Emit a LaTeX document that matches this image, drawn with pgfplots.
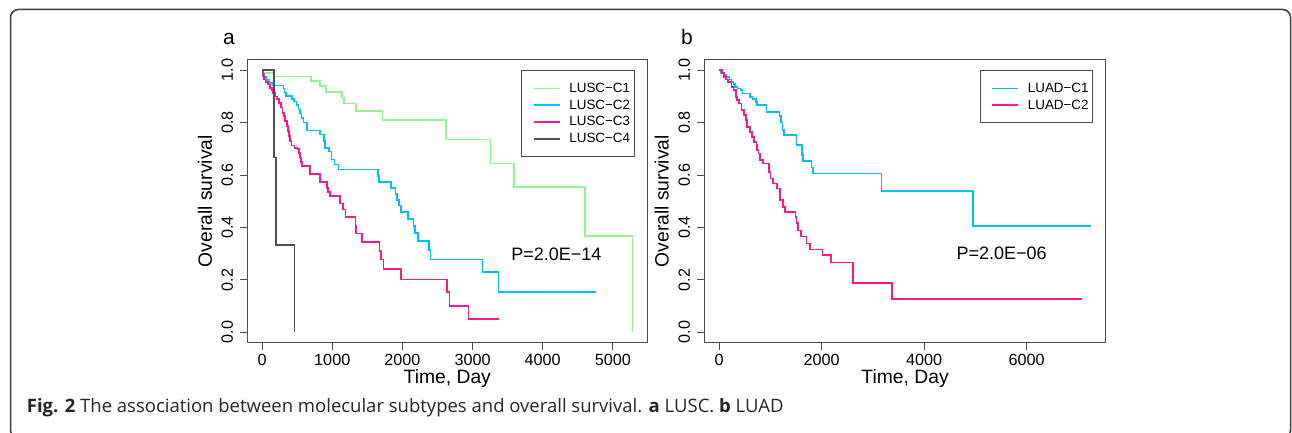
\documentclass[border=0pt]{standalone}
\usepackage{pgfplots}
\pgfplotsset{compat=1.18}
\usepackage{fontspec}
\setmainfont{Liberation Sans}
\newfontfamily\capfont{Open Sans}

\definecolor{cgreen}{RGB}{144,245,144}
\definecolor{cblue}{RGB}{0,191,255}
\definecolor{cpink}{RGB}{255,20,147}
\definecolor{cgray}{RGB}{80,80,80}
\definecolor{cframe}{RGB}{60,60,60}

\pgfplotsset{
  km/.style={
    scale only axis, height=283pt,
    axis line style={black!70, line width=0.9pt},
    tick style={black!70, line width=0.9pt},
    tick align=outside, major tick length=7pt,
    xtick pos=left, ytick pos=left,
    ymin=-0.04, ymax=1.04,
    ytick={0,0.2,0.4,0.6,0.8,1},
    /pgf/number format/assume math mode=true,
    tick label style={font=\fontsize{16.2}{18}\selectfont},
    xticklabel style={anchor=north, inner sep=0pt, /pgf/number format/1000 sep={}},
    yticklabel style={rotate=90, anchor=south, inner sep=0pt,
      /pgf/number format/fixed, /pgf/number format/fixed zerofill,
      /pgf/number format/precision=1},
    xticklabel shift=4.7pt, yticklabel shift=7pt,
    every axis x label/.style={at={(axis description cs:0.5,-0.1258)}, anchor=center,
      font=\fontsize{19.3}{22}\selectfont},
    every axis y label/.style={at={(axis description cs:-0.1058,0.5)}, rotate=90, anchor=center,
      font=\fontsize{19.3}{22}\selectfont},
    xlabel={Time, Day}, ylabel={Overall survival},
    every axis plot/.append style={const plot, line width=1.7pt},
    legend cell align=left,
    legend image code/.code={\path (0pt,0pt); \draw[#1, line width=1.5pt] (9.6pt,0pt) -- (35.3pt,0pt);},
    legend style={at={(0.968,0.962)}, anchor=north east, draw=black!70, line width=0.8pt,
      fill=white, font=\fontsize{13.4}{16}\selectfont, inner xsep=2pt, inner ysep=10pt,
      column sep=7pt, row sep=2pt},
  },
}

\begin{document}
\begin{tikzpicture}
\path[use as bounding box] (0pt,0pt) rectangle (1292pt,432pt);
\draw[cframe, line width=1.5pt, rounded corners=8pt] (10.5pt,-6pt) rectangle (1290.5pt,422.5pt);

\begin{axis}[km, at={(247.3pt,89.3pt)}, anchor=south west, width=400pt,
  xmin=-211, xmax=5491, xtick={0,1000,2000,3000,4000,5000}]
\addplot[cgreen] coordinates {(0,1)(20,0.988)(175,0.976)(700,0.958)(830,0.94)(915,0.918)(1140,0.896)(1165,0.873)(1340,0.845)(1715,0.809)(2620,0.735)(3255,0.644)(3590,0.553)(4600,0.366)(5280,0)};
\addplot[cblue] coordinates {(0,1)(15,0.987)(30,0.975)(60,0.963)(100,0.952)(150,0.941)(307,0.93)(320,0.915)(340,0.901)(430,0.89)(450,0.88)(490,0.868)(520,0.85)(545,0.835)(560,0.818)(590,0.8)(640,0.77)(830,0.755)(880,0.73)(900,0.704)(950,0.69)(990,0.659)(1030,0.64)(1090,0.621)(1650,0.597)(1665,0.573)(1840,0.551)(1900,0.527)(1920,0.505)(1950,0.484)(1980,0.458)(2080,0.433)(2160,0.406)(2175,0.379)(2220,0.347)(2380,0.313)(2400,0.277)(3142,0.230)(3370,0.154)(4763,0.154)};
\addplot[cpink] coordinates {(0,1)(10,0.978)(25,0.965)(50,0.955)(80,0.945)(110,0.933)(140,0.925)(160,0.914)(190,0.9)(210,0.89)(240,0.876)(270,0.858)(290,0.837)(310,0.825)(330,0.806)(350,0.786)(365,0.767)(385,0.748)(400,0.73)(420,0.713)(460,0.703)(505,0.699)(525,0.683)(540,0.667)(555,0.65)(570,0.634)(687,0.605)(829,0.573)(930,0.55)(940,0.534)(970,0.519)(1113,0.491)(1150,0.468)(1190,0.44)(1331,0.405)(1340,0.377)(1422,0.345)(1672,0.309)(1695,0.277)(1729,0.242)(1981,0.201)(2635,0.153)(2670,0.1)(2943,0.05)(3378,0.05)};
\addplot[cgray] coordinates {(0,1)(168,0.667)(200,0.333)(460,0)};
\legend{LUSC−C1, LUSC−C2, LUSC−C3, LUSC−C4}
\node[font=\fontsize{18}{20}\selectfont] at (axis cs:4194,0.2966) {P=2.0E−14};
\end{axis}

\begin{axis}[km, at={(704.3pt,89.3pt)}, anchor=south west, width=401.5pt,
  xmin=-290, xmax=7546, xtick={0,2000,4000,6000}]
\addplot[cblue] coordinates {(0,1)(30,0.987)(100,0.981)(144,0.975)(200,0.965)(242,0.956)(280,0.946)(307,0.936)(360,0.93)(417,0.924)(456,0.911)(599,0.898)(650,0.89)(716,0.879)(740,0.866)(925,0.841)(1175,0.826)(1205,0.8)(1236,0.771)(1270,0.752)(1511,0.714)(1620,0.676)(1640,0.654)(1804,0.629)(1830,0.606)(3170,0.54)(4959,0.405)(7256,0.405)};
\addplot[cpink] coordinates {(0,1)(60,0.99)(100,0.975)(140,0.965)(176,0.955)(241,0.936)(280,0.924)(326,0.898)(351,0.886)(390,0.873)(437,0.848)(488,0.829)(520,0.81)(547,0.784)(600,0.765)(634,0.746)(677,0.727)(729,0.714)(745,0.695)(767,0.682)(800,0.657)(859,0.644)(976,0.612)(1003,0.587)(1054,0.568)(1132,0.549)(1184,0.53)(1194,0.504)(1250,0.479)(1282,0.46)(1490,0.441)(1511,0.416)(1542,0.388)(1594,0.365)(1705,0.339)(1770,0.316)(2017,0.295)(2180,0.266)(2616,0.187)(3371,0.126)(7074,0.126)};
\legend{LUAD−C1, LUAD−C2}
\node[font=\fontsize{18}{20}\selectfont] at (axis cs:5513,0.301) {P=2.0E−06};
\end{axis}

\node[font=\fontsize{21}{24}\selectfont, anchor=base] at (229pt,387pt) {a};
\node[font=\fontsize{21}{24}\selectfont, anchor=base] at (687pt,387pt) {b};
\node[anchor=base west, inner sep=0pt, font=\capfont\fontsize{18.5}{21}\selectfont, text=black!85]
  at (26.7pt,19.3pt) {\textbf{Fig. 2} The association between molecular subtypes and overall survival. \textbf{a} LUSC. \textbf{b} LUAD};
\end{tikzpicture}
\end{document}
